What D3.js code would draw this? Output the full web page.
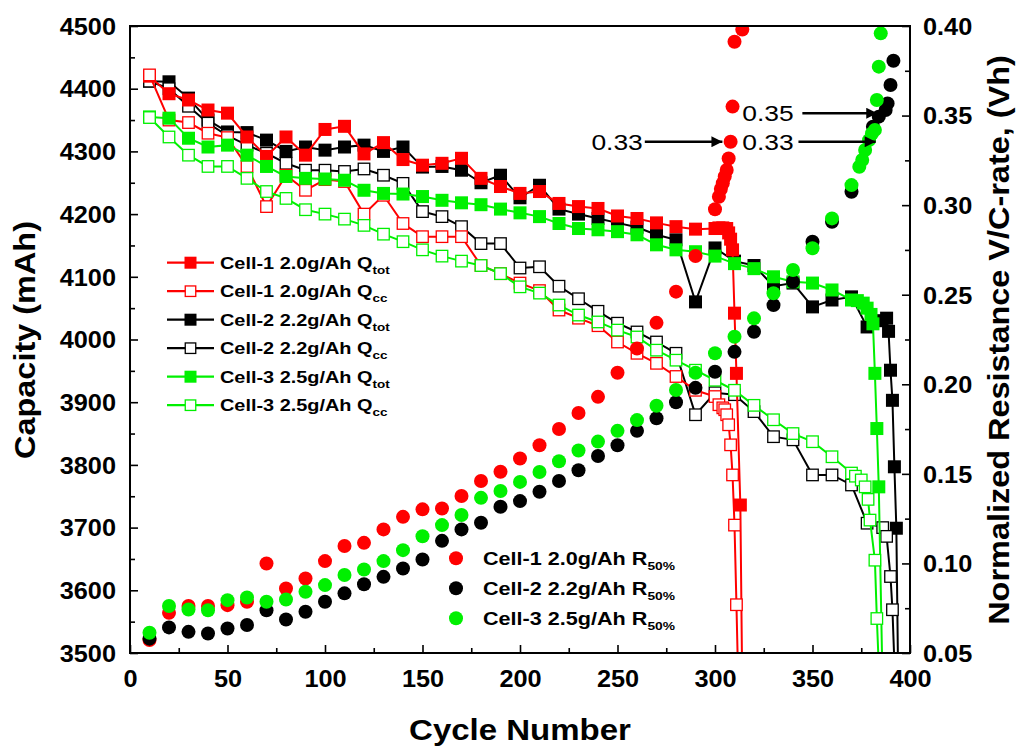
<!DOCTYPE html>
<html>
<head>
<meta charset="utf-8">
<script src="https://cdn.jsdelivr.net/npm/d3@7"></script>
<style>
  body { margin: 0; background: #fff; }
  text { font-family: "Liberation Sans", Arial, sans-serif; }
</style>
</head>
<body>
<svg id="chart" width="1018" height="747"></svg>
<script>
// ---- data ----
// capacity (mAh), Q_tot = filled squares, Q_cc = open squares
const cell1TotCyc = d3.range(10, 310, 10).concat([302, 304, 306, 307, 308, 309, 310, 311, 313, 314]);
const cell1TotCap = [4420, 4392, 4382, 4366, 4361, 4323, 4292, 4323, 4294, 4335, 4340, 4296, 4314, 4287, 4278,
  4281, 4289, 4257, 4244, 4233, 4236, 4217, 4212, 4209, 4197, 4193, 4186, 4180, 4176, 4177,
  4178, 4178, 4177, 4170, 4160, 4143, 4042, 3946, 3736, 3440];

const cell1CcCyc = d3.range(10, 310, 10).concat([302, 304, 305, 306, 307, 308, 309, 310, 311, 312]);
const cell1CcCap = [4422, 4350, 4346, 4329, 4322, 4276, 4212, 4262, 4238, 4255, 4252, 4200, 4230, 4185, 4164,
  4164, 4164, 4118, 4105, 4090, 4078, 4047, 4034, 4022, 3996, 3978, 3962, 3941, 3919, 3909,
  3896, 3891, 3888, 3880, 3864, 3832, 3784, 3704, 3577, 3440];

const cell2TotCyc = d3.range(10, 380, 10).concat([378, 385, 388, 389, 390, 391, 392, 393, 394]);
const cell2TotCap = [4412, 4411, 4385, 4350, 4331, 4330, 4318, 4300, 4307, 4302, 4307, 4310, 4300, 4307, 4275,
  4276, 4270, 4250, 4262, 4226, 4246, 4208, 4200, 4193, 4186, 4179, 4167, 4159, 4060, 4146,
  4125, 4118, 4085, 4090, 4052, 4063, 4068,
  4020, 4030, 4034, 4013, 3951, 3903, 3797, 3699, 3440];

const cell2CcCyc = d3.range(10, 380, 10).concat([378, 386, 388, 390, 391, 392.5]);
const cell2CcCap = [4412, 4400, 4372, 4345, 4325, 4310, 4297, 4281, 4270, 4270, 4268, 4272, 4262, 4249, 4204,
  4196, 4180, 4153, 4153, 4114, 4116, 4085, 4065, 4045, 4026, 4012, 3996, 3978, 3880, 3915,
  3912, 3885, 3845, 3840, 3784, 3784, 3768,
  3707, 3700, 3686, 3622, 3569, 3440];

const cell3TotCyc = d3.range(10, 380, 10).concat([373, 376, 378, 380, 381, 382, 383, 384, 386]);
const cell3TotCap = [4355, 4353, 4321, 4307, 4310, 4294, 4276, 4260, 4257, 4256, 4254, 4238, 4233, 4232, 4228,
  4222, 4218, 4215, 4208, 4202, 4196, 4185, 4177, 4175, 4172, 4167, 4151, 4143, 4140, 4133,
  4121, 4113, 4100, 4092, 4090, 4079, 4063,
  4062, 4058, 4050, 4040, 4025, 3946, 3858, 3765, 3440];

const cell3CcCyc = d3.range(10, 380, 10).concat([372, 375, 377, 378.5, 379.5, 382, 383, 384.5]);
const cell3CcCap = [4354, 4323, 4294, 4276, 4276, 4257, 4236, 4225, 4207, 4200, 4192, 4182, 4168, 4156, 4143,
  4133, 4125, 4118, 4105, 4084, 4074, 4055, 4039, 4028, 4015, 4004, 3983, 3967, 3951, 3935,
  3919, 3895, 3872, 3850, 3837, 3813, 3787,
  3782, 3776, 3765, 3745, 3712, 3648, 3555, 3440];

// normalized resistance R50% (right axis), circles
const cell1RCyc = d3.range(10, 310, 10).concat([302, 303, 304, 305, 306, 307, 308, 309, 310, 314]);
const cell1R = [0.0572, 0.0724, 0.0762, 0.0762, 0.0767, 0.0786, 0.1000, 0.0860, 0.0916, 0.1013,
  0.1097, 0.1115, 0.1190, 0.1260, 0.1302, 0.1307, 0.1376, 0.1460, 0.1512, 0.1586,
  0.1660, 0.1750, 0.1840, 0.1930, 0.2064, 0.2200, 0.2343, 0.2517, 0.2716, 0.2977,
  0.3047, 0.3090, 0.3122, 0.3160, 0.3196, 0.3260, 0.3354, 0.3550, 0.3912, 0.3980];

const cell2RCyc = d3.range(10, 380, 10).concat([381, 384, 387.5, 388.5, 390, 391.5]);
const cell2R = [0.0580, 0.0643, 0.0618, 0.0609, 0.0637, 0.0656, 0.0739, 0.0687, 0.0730, 0.0786,
  0.0833, 0.0884, 0.0925, 0.0972, 0.1022, 0.1126, 0.1190, 0.1227, 0.1316, 0.1348,
  0.1400, 0.1460, 0.1520, 0.1600, 0.1660, 0.1740, 0.1810, 0.1900, 0.1980, 0.2070,
  0.2181, 0.2293, 0.2442, 0.2572, 0.2796, 0.2907, 0.3075,
  0.3438, 0.3494, 0.3531, 0.3568, 0.3671, 0.3806];

const cell3RCyc = d3.range(10, 380, 10).concat([374, 375.5, 377, 379, 380.5, 382, 383, 384, 385]);
const cell3R = [0.0613, 0.0762, 0.0743, 0.0739, 0.0795, 0.0810, 0.0786, 0.0799, 0.0842, 0.0879,
  0.0935, 0.0966, 0.1013, 0.1074, 0.1152, 0.1214, 0.1270, 0.1366, 0.1404, 0.1455,
  0.1510, 0.1570, 0.1630, 0.1680, 0.1740, 0.1800, 0.1880, 0.1968, 0.2064, 0.2173,
  0.2265, 0.2368, 0.2508, 0.2638, 0.2759, 0.2926, 0.3112,
  0.3214, 0.3252, 0.3308, 0.3363, 0.3400, 0.3420, 0.3587, 0.3773, 0.3959];

// ticks
const xTicks = [0, 50, 100, 150, 200, 250, 300, 350, 400];
const xMinor = [25, 75, 125, 175, 225, 275, 325, 375];
const yLeftTicks = [3500, 3600, 3700, 3800, 3900, 4000, 4100, 4200, 4300, 4400, 4500];
const yLeftMinor = [3550, 3650, 3750, 3850, 3950, 4050, 4150, 4250, 4350, 4450];
const yRightTicks = [0.05, 0.10, 0.15, 0.20, 0.25, 0.30, 0.35, 0.40];
const yRightMinor = [0.075, 0.125, 0.175, 0.225, 0.275, 0.325, 0.375];

// arrows: label, arrow start cycle, target cycle, target R
const notes = [
  { label: "0.33", fromCyc: 264, toCyc: 303.8, r: 0.3354, side: "left" },
  { label: "0.35", fromCyc: 344.8, toCyc: 383.2, r: 0.3513, side: "right" },
  { label: "0.33", fromCyc: 342.8, toCyc: 382.4, r: 0.3354, side: "right" }
];

const RED = "#ff0000", BLACK = "#000000", GREEN = "#00f000";
const SX = 1.1; // the figure's lettering is a bit wider than Arial

const svg = d3.select("#chart");
const x = d3.scaleLinear().domain([0, 400]).range([130, 910]);
const yL = d3.scaleLinear().domain([3500, 4500]).range([653, 26]);
const yR = d3.scaleLinear().domain([0.05, 0.40]).range([653, 26]);

svg.append("defs").append("clipPath").attr("id", "plot-clip")
  .append("rect").attr("x", 130).attr("y", 26).attr("width", 780).attr("height", 627);

const plot = svg.append("g").attr("clip-path", "url(#plot-clip)");

// line + square symbol series
let drawQ = (cyc, cap, color, filled) => {
  let pts = cyc.map((c, i) => [c, cap[i]]);
  let g = plot.append("g");
  g.append("path").datum(pts)
    .attr("d", d3.line().x(d => x(d[0])).y(d => yL(d[1])))
    .attr("fill", "none").attr("stroke", color).attr("stroke-width", 2);
  let s = filled ? 13 : 11.5;
  g.selectAll("rect").data(pts).enter().append("rect")
    .attr("x", d => x(d[0]) - s / 2)
    .attr("y", d => yL(d[1]) - s / 2)
    .attr("width", s).attr("height", s)
    .attr("fill", filled ? color : "#fff")
    .attr("stroke", filled ? "none" : color)
    .attr("stroke-width", 1.3);
};

// scatter circles on the right axis
let drawR = (cyc, vals, color) => {
  plot.append("g").selectAll("circle")
    .data(cyc.map((c, i) => [c, vals[i]]))
    .enter().append("circle")
    .attr("cx", d => x(d[0]))
    .attr("cy", d => yR(d[1]))
    .attr("r", 7)
    .attr("fill", color);
};

drawQ(cell2TotCyc, cell2TotCap, BLACK, true);
drawQ(cell2CcCyc, cell2CcCap, BLACK, false);
drawQ(cell1TotCyc, cell1TotCap, RED, true);
drawQ(cell1CcCyc, cell1CcCap, RED, false);
drawQ(cell3TotCyc, cell3TotCap, GREEN, true);
drawQ(cell3CcCyc, cell3CcCap, GREEN, false);

drawR(cell1RCyc, cell1R, RED);
drawR(cell2RCyc, cell2R, BLACK);
drawR(cell3RCyc, cell3R, GREEN);

// ---- axes ----
let styleTicks = (g) => {
  g.select(".domain").remove();
  g.selectAll(".tick line").attr("stroke", "#000").attr("stroke-width", 1.6);
};

let minorAxis = (axis, vals) => axis.tickValues(vals).tickSize(-5).tickSizeOuter(0).tickFormat("");

let gx = svg.append("g").attr("transform", "translate(0,653)")
  .call(d3.axisBottom(x).tickValues(xTicks).tickSize(-8).tickSizeOuter(0).tickFormat(d3.format("d")));
gx.selectAll("text").attr("y", null).attr("dy", null)
  .attr("transform", `translate(0,34) scale(${SX},1)`);
svg.append("g").attr("transform", "translate(0,653)").call(minorAxis(d3.axisBottom(x), xMinor)).call(styleTicks);

let gl = svg.append("g").attr("transform", "translate(130,0)")
  .call(d3.axisLeft(yL).tickValues(yLeftTicks).tickSize(-8).tickSizeOuter(0).tickFormat(d3.format("d")));
gl.selectAll("text").attr("x", null).attr("dy", "0.36em")
  .attr("transform", `translate(-14,0) scale(${SX},1)`);
svg.append("g").attr("transform", "translate(130,0)").call(minorAxis(d3.axisLeft(yL), yLeftMinor)).call(styleTicks);

let gr = svg.append("g").attr("transform", "translate(910,0)")
  .call(d3.axisRight(yR).tickValues(yRightTicks).tickSize(-8).tickSizeOuter(0).tickFormat(d3.format(".2f")));
gr.selectAll("text").attr("x", null).attr("dy", "0.36em")
  .attr("transform", `translate(13,0) scale(${SX},1)`);
svg.append("g").attr("transform", "translate(910,0)").call(minorAxis(d3.axisRight(yR), yRightMinor)).call(styleTicks);

[gx, gl, gr].forEach(g => {
  styleTicks(g);
  g.selectAll("text").attr("fill", "#000")
    .style("font-size", "23px").style("font-weight", "bold")
    .style("font-family", "'Liberation Sans', Arial, sans-serif");
});

// frame
svg.append("rect").attr("x", 130).attr("y", 26).attr("width", 780).attr("height", 627)
  .attr("fill", "none").attr("stroke", "#000").attr("stroke-width", 2);

// axis titles
svg.append("text").attr("transform", `translate(520,740) scale(${SX},1)`)
  .attr("text-anchor", "middle").style("font-size", "30px").style("font-weight", "bold")
  .text("Cycle Number");
svg.append("text").attr("transform", `translate(35,340) rotate(-90) scale(${SX},1)`)
  .attr("text-anchor", "middle").style("font-size", "29.5px").style("font-weight", "bold")
  .text("Capacity (mAh)");
svg.append("text").attr("transform", `translate(1009,340) rotate(-90) scale(${SX},1)`)
  .attr("text-anchor", "middle").style("font-size", "29.5px").style("font-weight", "bold")
  .text("Normalized Resistance V/C-rate, (Vh)");

// ---- annotations ----
let defs = svg.select("defs");
defs.append("marker").attr("id", "arrowhead")
  .attr("viewBox", "0 0 10 10").attr("refX", 10).attr("refY", 5)
  .attr("markerWidth", 7).attr("markerHeight", 4.4).attr("markerUnits", "strokeWidth")
  .attr("orient", "auto")
  .append("path").attr("d", "M0,0 L10,5 L0,10 Z").attr("fill", "#000");

notes.forEach(n => {
  let yy = yR(n.r);
  svg.append("line")
    .attr("x1", x(n.fromCyc)).attr("x2", x(n.toCyc))
    .attr("y1", yy).attr("y2", yy)
    .attr("stroke", "#000").attr("stroke-width", 2.5)
    .attr("marker-end", "url(#arrowhead)");
  let tx = n.side === "left" ? x(n.fromCyc) - 2 : x(314);
  svg.append("text")
    .attr("transform", `translate(${tx},${yy + 8}) scale(1.2,1)`)
    .attr("text-anchor", n.side === "left" ? "end" : "start")
    .style("font-size", "22px")
    .text(n.label);
});

// ---- legends ----
const qLegend = [
  { cell: "Cell-1 2.0g/Ah Q", sub: "tot", color: RED, filled: true },
  { cell: "Cell-1 2.0g/Ah Q", sub: "cc", color: RED, filled: false },
  { cell: "Cell-2 2.2g/Ah Q", sub: "tot", color: BLACK, filled: true },
  { cell: "Cell-2 2.2g/Ah Q", sub: "cc", color: BLACK, filled: false },
  { cell: "Cell-3 2.5g/Ah Q", sub: "tot", color: GREEN, filled: true },
  { cell: "Cell-3 2.5g/Ah Q", sub: "cc", color: GREEN, filled: false }
];
const rLegend = [
  { cell: "Cell-1 2.0g/Ah R", sub: "50%", color: RED },
  { cell: "Cell-2 2.2g/Ah R", sub: "50%", color: BLACK },
  { cell: "Cell-3 2.5g/Ah R", sub: "50%", color: GREEN }
];

qLegend.forEach((d, i) => {
  let yy = 262.7 + i * 28.5;
  let g = svg.append("g");
  g.append("line").attr("x1", 167).attr("x2", 214).attr("y1", yy).attr("y2", yy)
    .attr("stroke", d.color).attr("stroke-width", 2.2);
  let s = d.filled ? 12 : 10.5;
  g.append("rect").attr("x", 190.5 - s / 2).attr("y", yy - s / 2).attr("width", s).attr("height", s)
    .attr("fill", d.filled ? d.color : "#fff").attr("stroke", d.filled ? "none" : d.color)
    .attr("stroke-width", 1.3);
  let t = g.append("text").attr("transform", `translate(220,${yy + 6}) scale(1.17,1)`)
    .style("font-size", "17px").style("font-weight", "bold");
  t.append("tspan").text(d.cell);
  t.append("tspan").attr("dy", 5).style("font-size", "11.5px").text(d.sub);
});

rLegend.forEach((d, i) => {
  let yy = 558.3 + i * 30;
  let g = svg.append("g");
  g.append("circle").attr("cx", 456).attr("cy", yy).attr("r", 7).attr("fill", d.color);
  let t = g.append("text").attr("transform", `translate(483,${yy + 6.5}) scale(1.2,1)`)
    .style("font-size", "18px").style("font-weight", "bold");
  t.append("tspan").text(d.cell);
  t.append("tspan").attr("dy", 5).style("font-size", "11.5px").text(d.sub);
});
</script>
</body>
</html>
